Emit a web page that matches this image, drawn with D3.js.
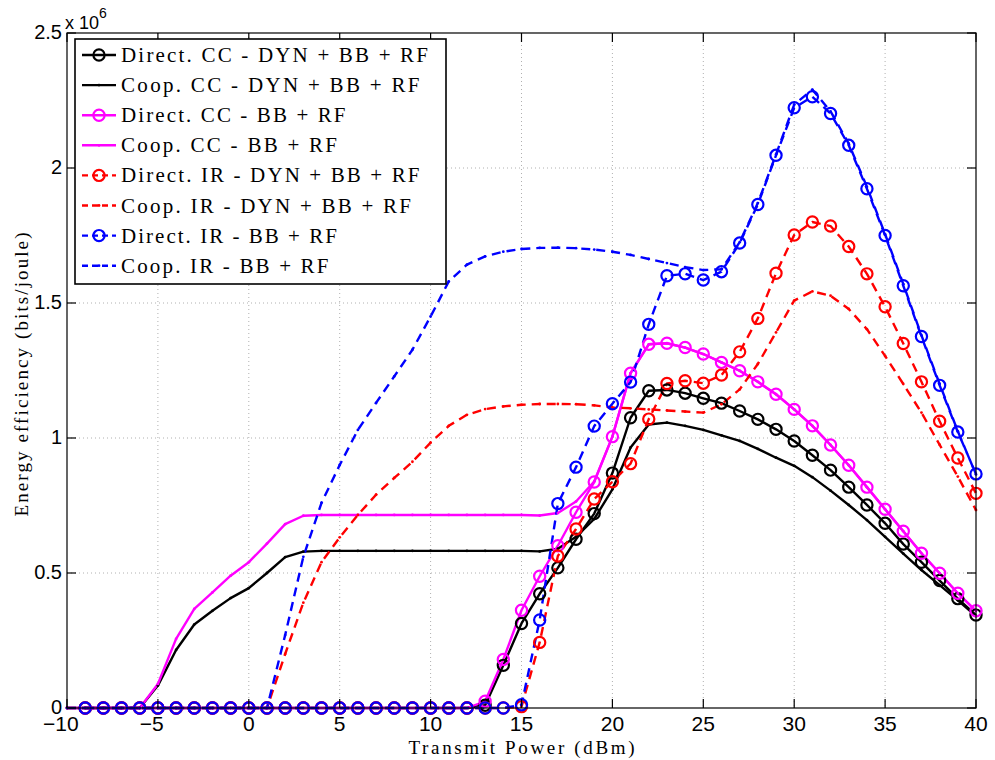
<!DOCTYPE html>
<html><head><meta charset="utf-8">
<script src="https://cdn.jsdelivr.net/npm/d3@7"></script>
<style>body{margin:0;background:#fff}</style>
</head><body>
<script>
// ---------- DATA ----------
const directX = d3.range(-9, 41);   // -9..40
const coopX = d3.range(-10, 41);    // -10..40
const z = n => Array(n).fill(0);

// Direct series (values in units of 1e6 bits/joule), x = -9..40
const directCC_DYN = z(22).concat([0.01,0.158,0.313,0.423,0.519,0.625,0.72,0.87,1.075,1.175,1.178,1.166,1.147,1.129,1.1,1.069,1.032,0.989,0.936,0.881,0.818,0.752,0.684,0.607,0.54,0.472,0.405,0.344]);
const directCC_BB = z(22).concat([0.025,0.18,0.362,0.488,0.601,0.725,0.837,1.005,1.24,1.347,1.351,1.335,1.311,1.28,1.249,1.208,1.162,1.106,1.045,0.974,0.899,0.818,0.736,0.655,0.573,0.499,0.425,0.36]);
const directIR_DYN = z(24).concat([0.005,0.243,0.563,0.663,0.774,0.838,0.905,1.07,1.202,1.212,1.203,1.233,1.319,1.443,1.61,1.752,1.8,1.785,1.709,1.608,1.486,1.35,1.208,1.062,0.926,0.795]);
const directIR_BB = z(24).concat([0.012,0.326,0.757,0.892,1.044,1.127,1.207,1.421,1.601,1.608,1.585,1.616,1.722,1.865,2.047,2.223,2.264,2.202,2.084,1.923,1.75,1.564,1.376,1.195,1.022,0.867]);

// Coop series, x = -10..40
const coopCC_DYN = [0,0,0,0,0,0.083,0.215,0.309,0.36,0.407,0.444,0.5,0.559,0.579,0.582,0.582,0.582,0.582,0.582,0.582,0.582,0.582,0.582,0.582,0.582,0.582,0.58,0.59,0.634,0.7,0.81,0.965,1.05,1.057,1.045,1.03,1.01,0.989,0.96,0.927,0.897,0.855,0.805,0.752,0.696,0.634,0.572,0.511,0.455,0.399,0.34];
const coopCC_BB = [0,0,0,0,0,0.089,0.256,0.367,0.428,0.49,0.54,0.609,0.681,0.712,0.715,0.715,0.715,0.715,0.715,0.715,0.715,0.715,0.715,0.715,0.715,0.715,0.713,0.722,0.765,0.839,1.005,1.24,1.347,1.351,1.335,1.311,1.28,1.249,1.208,1.162,1.106,1.045,0.974,0.899,0.818,0.736,0.655,0.573,0.499,0.425,0.36];
const coopIR_DYN = [0,0,0,0,0,0,0,0,0,0,0,0,0.2,0.39,0.54,0.632,0.715,0.79,0.852,0.912,0.983,1.045,1.086,1.107,1.117,1.123,1.126,1.126,1.125,1.121,1.113,1.11,1.106,1.102,1.098,1.094,1.125,1.18,1.274,1.391,1.509,1.543,1.527,1.478,1.403,1.304,1.2,1.094,0.975,0.857,0.733];
const coopIR_BB = [0,0,0,0,0,0,0,0,0,0,0,0,0.27,0.56,0.76,0.9,1.03,1.13,1.228,1.327,1.45,1.58,1.642,1.673,1.69,1.7,1.704,1.705,1.703,1.698,1.69,1.678,1.663,1.648,1.633,1.622,1.625,1.725,1.87,2.05,2.235,2.29,2.21,2.09,1.93,1.755,1.57,1.38,1.2,1.025,0.865];

const legendLabels = ["Direct. CC - DYN + BB + RF","Coop. CC - DYN + BB + RF","Direct. CC - BB + RF","Coop. CC - BB + RF","Direct. IR - DYN + BB + RF","Coop. IR - DYN + BB + RF","Direct. IR - BB + RF","Coop. IR - BB + RF"];
const xTicks = [-10,-5,0,5,10,15,20,25,30,35,40];
const yTicks = [0,0.5,1,1.5,2,2.5];
const yTickLabels = ["0","0.5","1","1.5","2","2.5"];

// ---------- STYLE ----------
const series = [
  {x: directX, y: directCC_DYN, color:"#000000", dash:null, marker:"o"},
  {x: coopX,   y: coopCC_DYN,   color:"#000000", dash:null, marker:"."},
  {x: directX, y: directCC_BB,  color:"#ff00ff", dash:null, marker:"o"},
  {x: coopX,   y: coopCC_BB,    color:"#ff00ff", dash:null, marker:"."},
  {x: directX, y: directIR_DYN, color:"#ff0000", dash:"9,6", marker:"o"},
  {x: coopX,   y: coopIR_DYN,   color:"#ff0000", dash:"9,6", marker:"."},
  {x: directX, y: directIR_BB,  color:"#0000ff", dash:"9,6", marker:"o"},
  {x: coopX,   y: coopIR_BB,    color:"#0000ff", dash:"9,6", marker:"."}
];

const W = 995, H = 760;
const m = {left:67, right:976, top:33, bottom:708};
const svg = d3.select("body").append("svg").attr("width",W).attr("height",H);
const xS = d3.scaleLinear().domain([-10,40]).range([m.left,m.right]);
const yS = d3.scaleLinear().domain([0,2.5]).range([m.bottom,m.top]);

// grid
const grid = svg.append("g").attr("stroke","#b0b0b0").attr("stroke-width",1).attr("stroke-dasharray","1,3");
xTicks.slice(1,-1).forEach(t=>grid.append("line").attr("x1",xS(t)).attr("x2",xS(t)).attr("y1",m.top).attr("y2",m.bottom));
yTicks.slice(1,-1).forEach(t=>grid.append("line").attr("y1",yS(t)).attr("y2",yS(t)).attr("x1",m.left).attr("x2",m.right));

svg.append("defs").append("clipPath").attr("id","clip").append("rect")
  .attr("x",m.left-8).attr("y",m.top).attr("width",m.right-m.left+16).attr("height",m.bottom-m.top+8);

const plot = svg.append("g").attr("clip-path","url(#clip)");
const line = d3.line().x(d=>xS(d[0])).y(d=>yS(d[1]));

series.forEach(s=>{
  const pts = s.x.map((xv,i)=>[xv,s.y[i]]);
  plot.append("path").attr("d",line(pts)).attr("fill","none").attr("stroke",s.color)
    .attr("stroke-width",2.4).attr("stroke-dasharray",s.dash).attr("stroke-linejoin","round");
});
series.forEach(s=>{
  const pts = s.x.map((xv,i)=>[xv,s.y[i]]);
  if (s.marker==="o"){
    plot.append("g").selectAll("circle").data(pts).join("circle")
      .attr("cx",d=>xS(d[0])).attr("cy",d=>yS(d[1])).attr("r",5.6)
      .attr("fill","none").attr("stroke",s.color).attr("stroke-width",2.2);
  } else {
    plot.append("g").selectAll("circle").data(pts).join("circle")
      .attr("cx",d=>xS(d[0])).attr("cy",d=>yS(d[1])).attr("r",1.4).attr("fill",s.color);
  }
});

// frame
svg.append("rect").attr("x",m.left).attr("y",m.top).attr("width",m.right-m.left).attr("height",m.bottom-m.top)
  .attr("fill","none").attr("stroke","#000").attr("stroke-width",1.2);
// ticks (inward, all sides)
const tk = svg.append("g").attr("stroke","#000").attr("stroke-width",1.2);
const TL = 9;
xTicks.forEach(t=>{
  tk.append("line").attr("x1",xS(t)).attr("x2",xS(t)).attr("y1",m.bottom).attr("y2",m.bottom-TL);
  tk.append("line").attr("x1",xS(t)).attr("x2",xS(t)).attr("y1",m.top).attr("y2",m.top+TL);
});
yTicks.forEach(t=>{
  tk.append("line").attr("y1",yS(t)).attr("y2",yS(t)).attr("x1",m.left).attr("x2",m.left+TL);
  tk.append("line").attr("y1",yS(t)).attr("y2",yS(t)).attr("x1",m.right).attr("x2",m.right-TL);
});
const sans = "'Liberation Sans', Arial, sans-serif";
const serif = "'Liberation Serif', 'Times New Roman', serif";
xTicks.forEach(t=>{
  const digits = svg.append("text").attr("x",xS(t)).attr("y",731).attr("text-anchor","middle")
    .attr("font-family",sans).attr("font-size",21).text(String(Math.abs(t)));
  if (t<0){
    const w = digits.node().getComputedTextLength();
    svg.append("text").attr("x",xS(t)-w/2).attr("y",731).attr("text-anchor","end")
      .attr("font-family",sans).attr("font-size",21).text("\u2212");
  }
});
yTicks.forEach((t,i)=>{
  svg.append("text").attr("x",62).attr("y",yS(t)+6).attr("text-anchor","end")
    .attr("font-family",sans).attr("font-size",20).text(yTickLabels[i]);
});
// exponent
const ex = svg.append("text").attr("x",65).attr("y",29).attr("font-family",sans).attr("font-size",18);
ex.append("tspan").text("x 10");
ex.append("tspan").attr("dy",-11).attr("font-size",14).text("6");

// axis titles (serif, stretched to the reference's wide math-font widths)
function stretched(sel, target){
  const w = sel.node().getComputedTextLength();
  if (w < target) sel.attr("textLength",target).attr("lengthAdjust","spacing");
  return sel;
}
stretched(svg.append("text").attr("x",(m.left+m.right)/2).attr("y",754).attr("text-anchor","middle")
  .attr("font-family",serif).attr("font-size",19).text("Transmit Power (dBm)"), 226);
stretched(svg.append("text").attr("transform",`translate(28,${(m.top+m.bottom)/2+4}) rotate(-90)`).attr("text-anchor","middle")
  .attr("font-family",serif).attr("font-size",19).text("Energy efficiency (bits/joule)"), 284);

// legend
const lg = svg.append("g");
lg.append("rect").attr("x",75).attr("y",39).attr("width",371).attr("height",245)
  .attr("fill","#fff").attr("stroke","#000").attr("stroke-width",1.6);
let k = null;
series.forEach((s,i)=>{
  const yy = 55 + i*30.1;
  lg.append("line").attr("x1",82).attr("x2",116).attr("y1",yy).attr("y2",yy)
    .attr("stroke",s.color).attr("stroke-width",2.4).attr("stroke-dasharray",s.dash?"6,4":null);
  if (s.marker==="o") lg.append("circle").attr("cx",99).attr("cy",yy).attr("r",5.6).attr("fill","none").attr("stroke",s.color).attr("stroke-width",2.2);
  else lg.append("circle").attr("cx",99).attr("cy",yy).attr("r",1.4).attr("fill",s.color);
  const t = lg.append("text").attr("x",121).attr("y",yy+7).attr("font-family",serif).attr("font-size",21).text(legendLabels[i]);
  const w = t.node().getComputedTextLength();
  if (k===null) k = 307 / w;
  if (k > 1) t.attr("textLength", w*k).attr("lengthAdjust","spacing");
});
</script>
</body></html>
